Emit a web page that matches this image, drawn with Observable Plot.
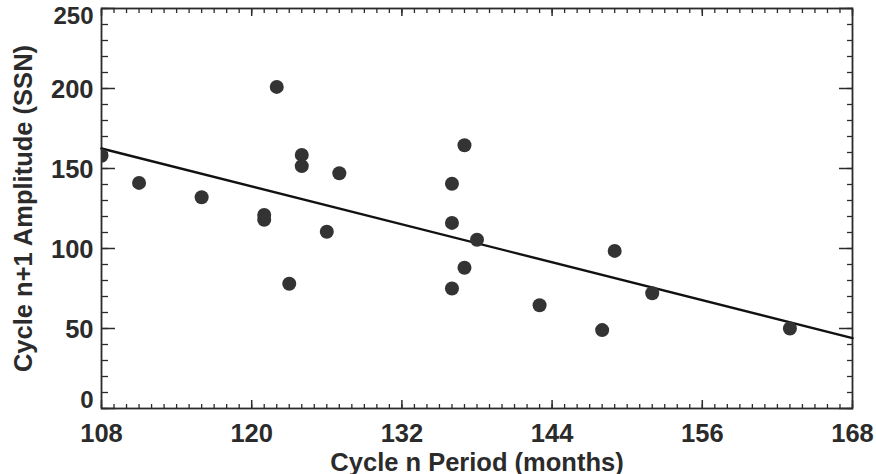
<!DOCTYPE html>
<html>
<head>
<meta charset="utf-8">
<script src="https://cdn.jsdelivr.net/npm/d3@7"></script>
<script src="https://cdn.jsdelivr.net/npm/@observablehq/plot@0.6"></script>
<style>
  html, body { margin: 0; padding: 0; background: #fff; }
</style>
</head>
<body>
<div id="chart"></div>
<script>
// Cycle n period (months) and cycle n+1 amplitude (SSN)
const period    = [108, 111, 116, 121, 121, 122, 123, 124, 124, 126, 127, 136, 136, 136, 137, 137, 138, 143, 148, 149, 152, 163];
const amplitude = [158, 141, 132, 121, 118, 201,  78, 158.5, 151.5, 110.5, 147, 140.5, 116, 75, 164.5, 88, 105.5, 64.5, 49, 98.5, 72, 50];
// Linear fit endpoints
const fitX = [108, 168];
const fitY = [162.5, 44];
// Ticks
const xMajor = [108, 120, 132, 144, 156, 168];
const xMinor = d3.range(108, 169, 1);
const yMajor = [0, 50, 100, 150, 200, 250];
const yMid = [50, 100, 150, 200];
const yMinor = d3.range(0, 251, 10);

const pts = period.map((p, i) => ({p, a: amplitude[i]}));
const fit = fitX.map((x, i) => ({x, y: fitY[i]}));

const ink = "#2b2b2b";
const chart = Plot.plot({
  width: 876,
  height: 474,
  marginLeft: 101,
  marginRight: 24,
  marginTop: 8,
  marginBottom: 66,
  style: {fontFamily: "Liberation Sans, Arial, sans-serif", fontSize: "24px", fontWeight: "bold", color: ink, background: "#fff"},
  x: {domain: [108, 168]},
  y: {domain: [0, 250]},
  marks: [
    // minor ticks
    Plot.axisX(xMinor, {anchor: "bottom", tickSize: -4, fill: "none", strokeWidth: 1.3}),
    Plot.axisX(xMinor, {anchor: "top", tickSize: -4, fill: "none", strokeWidth: 1.3}),
    Plot.axisY(yMinor, {anchor: "left", tickSize: -7, fill: "none", strokeWidth: 1.3}),
    Plot.axisY(yMinor, {anchor: "right", tickSize: -6, fill: "none", strokeWidth: 1.3}),
    // major ticks
    Plot.axisX(xMajor, {anchor: "bottom", tickSize: -8, fill: "none", strokeWidth: 1.5}),
    Plot.axisX(xMajor, {anchor: "top", tickSize: -7, fill: "none", strokeWidth: 1.5}),
    Plot.axisY(yMajor, {anchor: "left", tickSize: -14, fill: "none", strokeWidth: 1.5}),
    Plot.axisY(yMajor, {anchor: "right", tickSize: -14, fill: "none", strokeWidth: 1.5}),
    // tick labels and titles
    Plot.axisX(xMajor, {anchor: "bottom", tickSize: 0, tickPadding: 15, label: "Cycle n Period (months)", labelAnchor: "center", labelArrow: "none", labelOffset: 62, fontSize: 25.5}),
    Plot.axisY(yMid, {anchor: "left", tickSize: 0, tickPadding: 8, dy: 1.5, label: "Cycle n+1 Amplitude (SSN)", labelAnchor: "center", labelArrow: "none", labelOffset: 88, fontSize: 25.5}),
    Plot.axisY([0], {anchor: "left", tickSize: 0, tickPadding: 8, dy: -8, label: null}),
    Plot.axisY([250], {anchor: "left", tickSize: 0, tickPadding: 8, dy: 8, label: null}),
    Plot.frame({stroke: ink, strokeWidth: 1.8}),
    Plot.line(fit, {x: "x", y: "y", stroke: "#111", strokeWidth: 2.4}),
    Plot.dot(pts, {x: "p", y: "a", r: 7, fill: "#333", clip: true})
  ]
});
document.getElementById("chart").appendChild(chart);
</script>
</body>
</html>
